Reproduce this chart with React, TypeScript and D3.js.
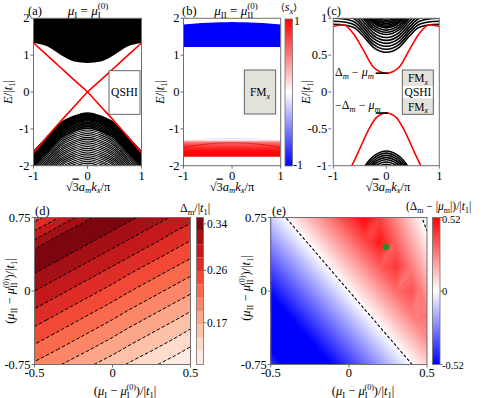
import React from 'react';
import * as d3 from 'd3';

const FONT = "'Liberation Serif', 'DejaVu Serif', serif";
const AXIS = '#707070';

// (a) mu_I = mu_I^(0)
const kPts = [-1, -0.75, -0.5, -0.25, 0, 0.25, 0.5, 0.75, 1];
const aUpperEdge = [1.33, 1.24, 1.01, 0.83, 0.79, 0.83, 1.01, 1.24, 1.33];
const aLowerShape = [-1.05, -0.66, -0.28, -0.09, 0, -0.09, -0.28, -0.66, -1.05];
const aLowerTops = [-0.57, -0.59, -0.61, -0.63, -0.66, -0.69, -0.72, -0.75, -0.78, -0.82, -0.86, -0.9, -0.94, -0.98,
  -1.03, -1.08, -1.13, -1.18, -1.23, -1.28, -1.33, -1.38, -1.43, -1.48, -1.53, -1.58, -1.63, -1.68, -1.73, -1.78,
  -1.83, -1.88, -1.93, -1.98];
const aEdgeA = [1.33, 1.0, 0.665, 0.33, 0, -0.4, -0.8, -1.22, -1.65];
const aEdgeB = [-1.65, -1.22, -0.8, -0.4, 0, 0.33, 0.665, 1.0, 1.33];

// (b) mu_II = mu_II^(0), colour = <s_x>
const bBlueTop = [1.83, 1.86, 1.88, 1.89, 1.9, 1.89, 1.88, 1.86, 1.83];
const bBlueBottom = [1.22, 1.22, 1.22, 1.22, 1.22, 1.22, 1.22, 1.22, 1.22];
const bRedTop = [-1.3, -1.28, -1.265, -1.255, -1.25, -1.255, -1.265, -1.28, -1.3];
const bRedBottom = [-1.76, -1.76, -1.76, -1.76, -1.76, -1.76, -1.76, -1.76, -1.76];
const bArc = [-1.5, -1.45, -1.41, -1.385, -1.38, -1.385, -1.41, -1.45, -1.5];
const bStopE = [-1.24, -1.27, -1.3, -1.33, -1.37, -1.43, -1.52, -1.6, -1.68, -1.76];
const bStopSx = [0, -0.15, 0, 0.3, 0.55, 0.7, 0.85, 0.95, 1, 1];

// (c) domain wall spectrum
const cUpRedK = [-1, -0.81, -0.62, -0.43, -0.245, -0.12, 0, 0.12, 0.245, 0.43, 0.62, 0.81, 1];
const cUpRedE = [0.89, 0.913, 0.79, 0.565, 0.34, 0.275, 0.255, 0.275, 0.34, 0.565, 0.79, 0.913, 0.89];
const cLowRedK = [-0.72, -0.65, -0.5, -0.34, -0.18, 0, 0.18, 0.34, 0.5, 0.65, 0.72];
const cLowRedE = [-1.1, -1.0, -0.77, -0.52, -0.34, -0.285, -0.34, -0.52, -0.77, -1.0, -1.1];
const cUpArcK = [-1, -0.8, -0.6, -0.45, -0.25, 0, 0.25, 0.45, 0.6, 0.8, 1];
const cUpArcShape = [0.38, 0.37, 0.33, 0.23, 0.07, 0, 0.07, 0.23, 0.33, 0.37, 0.38];
const cUpArcMins = [0.54, 0.58, 0.62, 0.66, 0.7, 0.74, 0.78, 0.81, 0.84, 0.87, 0.89, 0.91, 0.93, 0.95, 0.97, 0.99];
const cLowArcK = [-0.6, -0.5, -0.4, -0.3, -0.2, 0, 0.2, 0.3, 0.4, 0.5, 0.6];
const cLowArcShape = [-0.45, -0.3, -0.2, -0.11, -0.05, 0, -0.05, -0.11, -0.2, -0.3, -0.45];
const cLowArcTops = [-0.8, -0.83, -0.86, -0.89, -0.92, -0.95, -0.98];

// (d) Delta_m / |t1| on the (mu_I, mu_II) plane
const dmX = [-0.5, -0.4, -0.3, -0.2, -0.1, 0, 0.1, 0.2, 0.3, 0.4, 0.5];
const dmY = [0.75, 0.6, 0.45, 0.3, 0.15, 0, -0.15, -0.3, -0.45, -0.6, -0.75];
const dmGrid = [
  [0.248, 0.270, 0.292, 0.313, 0.335, 0.345, 0.334, 0.323, 0.312, 0.301, 0.290],
  [0.286, 0.307, 0.329, 0.348, 0.337, 0.326, 0.315, 0.304, 0.293, 0.281, 0.270],
  [0.323, 0.345, 0.340, 0.329, 0.318, 0.307, 0.296, 0.285, 0.274, 0.262, 0.251],
  [0.343, 0.332, 0.321, 0.310, 0.299, 0.288, 0.277, 0.265, 0.254, 0.243, 0.232],
  [0.324, 0.313, 0.302, 0.291, 0.280, 0.269, 0.257, 0.246, 0.235, 0.224, 0.213],
  [0.305, 0.294, 0.283, 0.272, 0.261, 0.250, 0.238, 0.227, 0.216, 0.205, 0.194],
  [0.286, 0.275, 0.264, 0.253, 0.242, 0.231, 0.219, 0.208, 0.197, 0.186, 0.175],
  [0.267, 0.256, 0.245, 0.234, 0.223, 0.212, 0.200, 0.189, 0.178, 0.167, 0.155],
  [0.248, 0.237, 0.226, 0.215, 0.204, 0.193, 0.181, 0.170, 0.159, 0.148, 0.136],
  [0.229, 0.218, 0.207, 0.196, 0.185, 0.174, 0.162, 0.151, 0.140, 0.129, 0.117],
  [0.209, 0.198, 0.187, 0.176, 0.165, 0.154, 0.142, 0.131, 0.120, 0.109, 0.098],
];
const dmLevels = [0.098, 0.121, 0.144, 0.167, 0.19, 0.213, 0.236, 0.259, 0.282, 0.305, 0.328, 0.351];
const dmTicks = [0.34, 0.26, 0.17];

// (e) (Delta_m - |mu_m|) / |t1|
const eX = [-0.5, -0.4, -0.3, -0.2, -0.1, 0, 0.1, 0.2, 0.3, 0.4, 0.5];
const eY = [0.75, 0.5, 0.25, 0, -0.25, -0.5, -0.75];
const eGrid = [
  [-0.095, 0.005, 0.105, 0.205, 0.305, 0.405, 0.505, 0.386, 0.242, 0.098, -0.047],
  [-0.23, -0.13, -0.03, 0.07, 0.17, 0.27, 0.37, 0.47, 0.326, 0.182, 0.038],
  [-0.365, -0.265, -0.165, -0.065, 0.035, 0.135, 0.235, 0.335, 0.41, 0.266, 0.122],
  [-0.5, -0.4, -0.3, -0.2, -0.1, 0, 0.1, 0.2, 0.3, 0.351, 0.207],
  [-0.635, -0.535, -0.435, -0.335, -0.235, -0.135, -0.035, 0.065, 0.165, 0.265, 0.29],
  [-0.602, -0.67, -0.57, -0.47, -0.37, -0.27, -0.17, -0.07, 0.03, 0.13, 0.23],
  [-0.413, -0.553, -0.693, -0.605, -0.505, -0.405, -0.305, -0.205, -0.105, -0.005, 0.095],
];
const eDot = { x: 0.236, y: 0.449 };

const bwr = d3.scaleLinear<string>().domain([-1, 0, 1]).range(['#0000ff', '#ffffff', '#ff0000']).clamp(true);
const eColor = d3.scaleLinear<string>().domain([-0.52, 0, 0.52]).range(['#0000ff', '#ffffff', '#ff0000']).clamp(true);

function gridPath(nx: number, ny: number, x0: number, x1: number, y0: number, y1: number) {
  const fx = d3.scaleLinear().domain([0.5, nx - 0.5]).range([x0, x1]);
  const fy = d3.scaleLinear().domain([0.5, ny - 0.5]).range([y0, y1]);
  return d3.geoPath(d3.geoTransform({
    point(px: number, py: number) { (this as any).stream.point(fx(px), fy(py)); },
  }));
}

const curve = (xs: any, ys: any, ks: number[], es: number[]) =>
  d3.line<number>().x((_, i) => xs(ks[i])).y((e) => ys(e)).curve(d3.curveMonotoneX)(es) || '';

export default function App() {
  const top = 18.3, bot = 165.7;
  const ya = d3.scaleLinear().domain([-2, 2]).range([bot, top]);
  const xa = d3.scaleLinear().domain([-1, 1]).range([33.5, 141.5]);
  const xb = d3.scaleLinear().domain([-1, 1]).range([183.5, 280.7]);
  const xc = d3.scaleLinear().domain([-1, 1]).range([333.3, 439.3]);
  const yc = d3.scaleLinear().domain([-1, 1]).range([bot, top]);
  const dTop = 217.5, dBot = 364.5;
  const xd = d3.scaleLinear().domain([-0.5, 0.5]).range([34.5, 190.5]);
  const yd = d3.scaleLinear().domain([-0.75, 0.75]).range([dBot, dTop]);
  const xe = d3.scaleLinear().domain([-0.5, 0.5]).range([270.8, 427]);
  const cbd = d3.scaleLinear().domain([dmLevels[0], dmLevels[dmLevels.length - 1]]).range([dBot, dTop]);
  const cbe = d3.scaleLinear().domain([-0.52, 0.52]).range([dBot, dTop]);

  const areaOf = (xs: any, ys: any, hi: number[], lo: number[]) =>
    d3.area<number>().x((_, i) => xs(kPts[i])).y0((_, i) => ys(lo[i])).y1((e) => ys(e)).curve(d3.curveMonotoneX)(hi) || '';

  // (d) filled contours
  const dmFlat = dmGrid.flat();
  const dmPath = gridPath(dmX.length, dmY.length, xd(dmX[0]), xd(dmX[dmX.length - 1]), yd(dmY[0]), yd(dmY[dmY.length - 1]));
  const dmBands = d3.contours().size([dmX.length, dmY.length]).thresholds(dmLevels.slice(1, -1))(dmFlat);
  const dmColor = (i: number) => d3.interpolateReds((i + 0.5) / (dmLevels.length - 1));

  // (e) smooth map as fine contour bands
  const eFlat = eGrid.flat();
  const ePath = gridPath(eX.length, eY.length, xe(eX[0]), xe(eX[eX.length - 1]), yd(eY[0]), yd(eY[eY.length - 1]));
  const eSteps = d3.range(-0.7, 0.52, 0.02);
  const eBands = d3.contours().size([eX.length, eY.length]).thresholds(eSteps)(eFlat);
  const eZero = d3.contours().size([eX.length, eY.length]).thresholds([0])(eFlat);

  const fs = 12.5;
  const yTicks = (sc: any, x: number, vals: number[], labels: string[]) => vals.map((v, i) => (
    <g key={'y' + x + i}>
      <line x1={x - 3} x2={x} y1={sc(v)} y2={sc(v)} stroke={AXIS} />
      <text x={x - 4} y={sc(v) + 4} textAnchor="end" fontSize={fs}>{labels[i]}</text>
    </g>
  ));
  const xTicks = (sc: any, y: number, vals: number[], labels: string[], ly: number) => vals.map((v, i) => (
    <g key={'x' + y + i + sc(v)}>
      <line x1={sc(v)} x2={sc(v)} y1={y} y2={y + 3} stroke={AXIS} />
      <text x={sc(v)} y={ly} textAnchor="middle" fontSize={fs}>{labels[i]}</text>
    </g>
  ));

  const kLabel = (cx: number) => (
    <text x={cx} y={190.5} textAnchor="middle" fontSize={12.5}>
      <tspan>√</tspan><tspan textDecoration="overline">3</tspan>
      <tspan fontStyle="italic">a</tspan><tspan fontSize={8.5} dy={2.5} fontStyle="italic">m</tspan>
      <tspan dy={-2.5} fontStyle="italic">k</tspan><tspan fontSize={8.5} dy={2.5} fontStyle="italic">x</tspan>
      <tspan dy={-2.5}>/π</tspan>
    </text>
  );
  const eLabel = (cx: number) => (
    <text transform={`translate(${cx},92) rotate(-90)`} textAnchor="middle" fontSize={12.5}>
      <tspan fontStyle="italic">E</tspan><tspan>/|</tspan><tspan fontStyle="italic">t</tspan>
      <tspan fontSize={8.5} dy={2.5}>1</tspan><tspan dy={-2.5}>|</tspan>
    </text>
  );
  const fmx = (cx: number, y: number) => (
    <text x={cx} y={y} textAnchor="middle" fontSize={11.5}>
      <tspan>FM</tspan><tspan fontSize={8} dy={2.5} fontStyle="italic">x</tspan>
    </text>
  );
  const muLabel = (sub: string, back: number) => [
    <tspan key="o">(</tspan>, <tspan key="m1" fontStyle="italic">μ</tspan>,
    <tspan key="s1" fontSize={8.5} dy={2.5}>{sub}</tspan>,
    <tspan key="mi" dy={-2.5}>{' − '}</tspan>, <tspan key="m2" fontStyle="italic">μ</tspan>,
    <tspan key="s2" fontSize={8.5} dy={2.5}>{sub}</tspan>,
    <tspan key="sp" fontSize={8} dx={-back} dy={-7.5}>(0)</tspan>,
    <tspan key="c" dy={5}>)/|</tspan>, <tspan key="t" fontStyle="italic">t</tspan>,
    <tspan key="s3" fontSize={8.5} dy={2.5}>1</tspan>, <tspan key="b" dy={-2.5}>|</tspan>,
  ];

  return (
    <svg width={485} height={398} style={{ position: 'absolute', left: 0, top: 0, background: '#fff' }} fontFamily={FONT}>
      <defs>
        <clipPath id="clipA"><rect x={xa(-1)} y={top} width={xa(1) - xa(-1)} height={bot - top} /></clipPath>
        <clipPath id="clipB"><rect x={xb(-1)} y={top} width={xb(1) - xb(-1)} height={bot - top} /></clipPath>
        <clipPath id="clipC"><rect x={xc(-1)} y={top} width={xc(1) - xc(-1)} height={bot - top} /></clipPath>
        <clipPath id="clipD"><rect x={xd(-0.5)} y={dTop} width={xd(0.5) - xd(-0.5)} height={dBot - dTop} /></clipPath>
        <clipPath id="clipE"><rect x={xe(-0.5)} y={dTop} width={xe(0.5) - xe(-0.5)} height={dBot - dTop} /></clipPath>
        <linearGradient id="bRedGrad" gradientUnits="userSpaceOnUse" x1={0} x2={0} y1={ya(bStopE[0])} y2={ya(bStopE[bStopE.length - 1])}>
          {bStopE.map((e, i) => (
            <stop key={i} offset={(e - bStopE[0]) / (bStopE[bStopE.length - 1] - bStopE[0])} stopColor={bwr(bStopSx[i])} />
          ))}
        </linearGradient>
        <linearGradient id="bwrBar" x1={0} x2={0} y1={0} y2={1}>
          <stop offset={0} stopColor="#ff0000" />
          <stop offset={0.5} stopColor="#ffffff" />
          <stop offset={1} stopColor="#0000ff" />
        </linearGradient>
      </defs>

      {/* ---------- (a) ---------- */}
      <g clipPath="url(#clipA)">
        <path d={areaOf(xa, ya, aUpperEdge, kPts.map(() => 2.1))} fill="#000" />
        {aLowerTops.map((t, j) => (
          <path key={j} d={curve(xa, ya, kPts, kPts.map((_, i) => t + aLowerShape[i]))} fill="none" stroke="#000"
            strokeWidth={t > -1.0 ? 1.7 : 1.1} />
        ))}
        <path d={curve(xa, ya, kPts, aEdgeA)} fill="none" stroke="#ff0000" strokeWidth={1.6} />
        <path d={curve(xa, ya, kPts, aEdgeB)} fill="none" stroke="#ff0000" strokeWidth={1.6} />
      </g>
      <rect x={109} y={70.7} width={31} height={43.6} fill="#fff" stroke="#555" strokeWidth={0.9} />
      <text x={124.5} y={96} textAnchor="middle" fontSize={11.5}>QSHI</text>
      <rect x={xa(-1)} y={top} width={xa(1) - xa(-1)} height={bot - top} fill="none" stroke={AXIS} />
      {yTicks(ya, xa(-1), [2, 1, 0, -1, -2], ['2', '1', '0', '-1', '-2'])}
      {xTicks(xa, bot, [-1, 0, 1], ['-1', '0', '1'], 180)}
      {kLabel(88)}
      {eLabel(12)}
      <text x={28} y={14.5} fontSize={12.5}>(a)</text>
      <text x={88} y={14.5} textAnchor="middle" fontSize={13}>
        <tspan fontStyle="italic">μ</tspan><tspan fontSize={9} dy={3}>I</tspan>
        <tspan dy={-3}>{' = '}</tspan>
        <tspan fontStyle="italic">μ</tspan><tspan fontSize={9} dy={3}>I</tspan>
        <tspan fontSize={9} dx={-3} dy={-9}>(0)</tspan>
      </text>

      {/* ---------- (b) ---------- */}
      <g clipPath="url(#clipB)">
        <path d={areaOf(xb, ya, bBlueTop, bBlueBottom)} fill="#0000ff" />
        <path d={areaOf(xb, ya, bRedTop, bRedBottom)} fill="url(#bRedGrad)" />
        <path d={curve(xb, ya, kPts, bArc)} fill="none" stroke="#c00000" strokeOpacity={0.55} strokeWidth={1} />
      </g>
      <rect x={244.3} y={70} width={31.4} height={44} fill="#e3e3dc" stroke="#555" strokeWidth={0.9} />
      {fmx(260, 96)}
      <rect x={xb(-1)} y={top} width={xb(1) - xb(-1)} height={bot - top} fill="none" stroke={AXIS} />
      {yTicks(ya, xb(-1), [2, 1, 0, -1, -2], ['2', '1', '0', '-1', '-2'])}
      {xTicks(xb, bot, [-1, 0, 1], ['-1', '0', '1'], 180)}
      {kLabel(232)}
      {eLabel(164)}
      <text x={182} y={14.5} fontSize={12.5}>(b)</text>
      <text x={236} y={14.5} textAnchor="middle" fontSize={13}>
        <tspan fontStyle="italic">μ</tspan><tspan fontSize={9} dy={3}>II</tspan>
        <tspan dy={-3}>{' = '}</tspan>
        <tspan fontStyle="italic">μ</tspan><tspan fontSize={9} dy={3}>II</tspan>
        <tspan fontSize={9} dx={-6} dy={-9}>(0)</tspan>
      </text>
      <rect x={285} y={19} width={7.5} height={147} fill="url(#bwrBar)" stroke={AXIS} strokeWidth={0.8} />
      <text x={294} y={25} fontSize={12}>1</text>
      <text x={293} y={169} fontSize={12}>-1</text>
      <text x={289} y={11} textAnchor="middle" fontSize={12}>
        <tspan fontFamily="'DejaVu Serif'" fontSize={10}>⟨</tspan><tspan fontStyle="italic">s</tspan>
        <tspan fontSize={8.5} dy={2.5} fontStyle="italic">x</tspan>
        <tspan dy={-2.5} fontFamily="'DejaVu Serif'" fontSize={10}>⟩</tspan>
      </text>

      {/* ---------- (c) ---------- */}
      <g clipPath="url(#clipC)">
        {cUpArcMins.map((m, j) => (
          <path key={j} d={curve(xc, yc, cUpArcK, cUpArcK.map((_, i) => m + cUpArcShape[i]))} fill="none" stroke="#000" strokeWidth={1.6} />
        ))}
        {cLowArcTops.map((m, j) => (
          <path key={j} d={curve(xc, yc, cLowArcK, cLowArcK.map((_, i) => m + cLowArcShape[i]))} fill="none" stroke="#000" strokeWidth={1.6} />
        ))}
        <path d={curve(xc, yc, cUpRedK, cUpRedE)} fill="none" stroke="#ff0000" strokeWidth={1.6} />
        <path d={curve(xc, yc, cLowRedK, cLowRedE)} fill="none" stroke="#ff0000" strokeWidth={1.6} />
      </g>
      <line x1={xc(-0.2)} x2={xc(0.03)} y1={yc(0.255)} y2={yc(0.255)} stroke="#000" strokeWidth={1.6} />
      <line x1={xc(-0.2)} x2={xc(0.03)} y1={yc(-0.285)} y2={yc(-0.285)} stroke="#000" strokeWidth={1.6} />
      <text x={335} y={76} fontSize={12}>
        <tspan>Δ</tspan><tspan fontSize={8.5} dy={2.5} fontStyle="italic">m</tspan>
        <tspan dy={-2.5}>{' − '}</tspan><tspan fontStyle="italic">μ</tspan>
        <tspan fontSize={8.5} dy={2.5} fontStyle="italic">m</tspan>
      </text>
      <text x={335} y={109} fontSize={12}>
        <tspan>−Δ</tspan><tspan fontSize={8.5} dy={2.5} fontStyle="italic">m</tspan>
        <tspan dy={-2.5}>{' − '}</tspan><tspan fontStyle="italic">μ</tspan>
        <tspan fontSize={8.5} dy={2.5} fontStyle="italic">m</tspan>
      </text>
      <rect x={402.3} y={70} width={31} height={16} fill="#e3e3dc" />
      <rect x={402.3} y={86} width={31} height={12.3} fill="#fff" />
      <rect x={402.3} y={98.3} width={31} height={16} fill="#e3e3dc" />
      <rect x={402.3} y={70} width={31} height={44.3} fill="none" stroke="#555" strokeWidth={0.9} />
      {fmx(418, 82)}
      <text x={418} y={96} textAnchor="middle" fontSize={11.5}>QSHI</text>
      {fmx(418, 110.5)}
      <rect x={xc(-1)} y={top} width={xc(1) - xc(-1)} height={bot - top} fill="none" stroke={AXIS} />
      {yTicks(yc, xc(-1) - 2, [1, 0.5, 0, -0.5, -1], ['1', '0.5', '0', '-0.5', '-1'])}
      {xTicks(xc, bot, [-1, 0, 1], ['-1', '0', '1'], 180)}
      {kLabel(388)}
      {eLabel(310)}
      <text x={327} y={14.5} fontSize={12.5}>(c)</text>

      {/* ---------- (d) ---------- */}
      <g clipPath="url(#clipD)">
        <rect x={xd(-0.5)} y={dTop} width={xd(0.5) - xd(-0.5)} height={dBot - dTop} fill={dmColor(0)} />
        {dmBands.map((c, i) => <path key={i} d={dmPath(c as any) || ''} fill={dmColor(i + 1)} />)}
        {dmBands.map((c, i) => (
          <path key={'l' + i} d={dmPath(c as any) || ''} fill="none" stroke="#000" strokeWidth={1} strokeDasharray="3.5 2" />
        ))}
      </g>
      <rect x={xd(-0.5)} y={dTop} width={xd(0.5) - xd(-0.5)} height={dBot - dTop} fill="none" stroke={AXIS} />
      {yTicks(yd, xd(-0.5), [0.75, 0, -0.75], ['0.75', '0', '-0.75'])}
      {xTicks(xd, dBot, [-0.5, 0, 0.5], ['-0.5', '0', '0.5'], 377)}
      {dmLevels.slice(0, -1).map((l, i) => (
        <rect key={i} x={196.5} y={cbd(dmLevels[i + 1])} width={7} height={cbd(l) - cbd(dmLevels[i + 1])} fill={dmColor(i)} />
      ))}
      <rect x={196.5} y={dTop} width={7} height={dBot - dTop} fill="none" stroke={AXIS} strokeWidth={0.8} />
      {dmTicks.map((t) => (
        <g key={t}>
          <line x1={203.5} x2={206} y1={cbd(t)} y2={cbd(t)} stroke={AXIS} />
          <text x={207} y={cbd(t) + 4} fontSize={11.5}>{t.toFixed(2)}</text>
        </g>
      ))}
      <text x={180} y={212} fontSize={12}>
        <tspan>Δ</tspan><tspan fontSize={8.5} dy={2.5}>m</tspan>
        <tspan dy={-2.5}>/|</tspan><tspan fontStyle="italic">t</tspan>
        <tspan fontSize={8.5} dy={2.5}>1</tspan><tspan dy={-2.5}>|</tspan>
      </text>
      <text x={35} y={215} fontSize={12.5}>(d)</text>
      <text transform="translate(14,291) rotate(-90)" textAnchor="middle" fontSize={12.5}>{muLabel('II', 5.5)}</text>
      <text x={125} y={395} textAnchor="middle" fontSize={12.5}>{muLabel('I', 3)}</text>

      {/* ---------- (e) ---------- */}
      <g clipPath="url(#clipE)">
        <rect x={xe(-0.5)} y={dTop} width={xe(0.5) - xe(-0.5)} height={dBot - dTop} fill={eColor(-0.7)} />
        {eBands.map((c, i) => <path key={i} d={ePath(c as any) || ''} fill={eColor(eSteps[i] + 0.01)} />)}
        {eZero.map((c, i) => (
          <path key={'z' + i} d={ePath(c as any) || ''} fill="none" stroke="#000" strokeWidth={1.1} strokeDasharray="3 2" />
        ))}
        <circle cx={xe(eDot.x)} cy={yd(eDot.y)} r={3.3} fill="#1f8f1f" />
      </g>
      <rect x={xe(-0.5)} y={dTop} width={xe(0.5) - xe(-0.5)} height={dBot - dTop} fill="none" stroke={AXIS} />
      {yTicks(yd, xe(-0.5), [0.75, 0, -0.75], ['0.75', '0', '-0.75'])}
      {xTicks(xe, dBot, [-0.5, 0, 0.5], ['-0.5', '0', '0.5'], 377)}
      <rect x={432.5} y={dTop} width={7.5} height={dBot - dTop} fill="url(#bwrBar)" stroke={AXIS} strokeWidth={0.8} />
      {[0.52, 0, -0.52].map((t) => (
        <g key={t}>
          <line x1={440} x2={442.5} y1={cbe(t)} y2={cbe(t)} stroke={AXIS} />
          <text x={442} y={cbe(t) + (t > 0 ? 5 : 4)} fontSize={10.5}>{t === 0 ? '0' : t.toFixed(2)}</text>
        </g>
      ))}
      <text x={406} y={210} fontSize={11.5}>
        <tspan>(Δ</tspan><tspan fontSize={8} dy={2.5}>m</tspan>
        <tspan dy={-2.5}>{' − |'}</tspan><tspan fontStyle="italic">μ</tspan>
        <tspan fontSize={8} dy={2.5}>m</tspan><tspan dy={-2.5}>|)/|</tspan>
        <tspan fontStyle="italic">t</tspan><tspan fontSize={8} dy={2.5}>1</tspan><tspan dy={-2.5}>|</tspan>
      </text>
      <text x={272} y={215} fontSize={12.5}>(e)</text>
      <text transform="translate(250,288) rotate(-90)" textAnchor="middle" fontSize={12.5}>{muLabel('II', 5.5)}</text>
      <text x={363} y={395} textAnchor="middle" fontSize={12.5}>{muLabel('I', 3)}</text>
    </svg>
  );
}
